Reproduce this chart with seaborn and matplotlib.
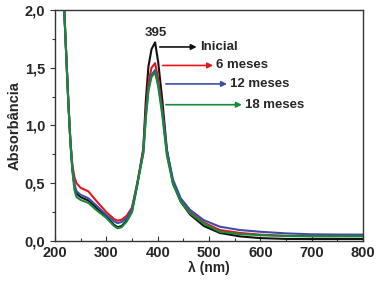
import numpy as np
import pandas as pd
import seaborn as sns
import matplotlib.pyplot as plt
from matplotlib.ticker import MultipleLocator, FuncFormatter

# comprimento de onda (nm) e absorbancia de cada amostra
wl = [214, 218, 222, 226, 230, 234, 238, 242, 250, 265, 280, 300, 315, 322, 330,
      340, 350, 360, 372, 377, 382, 388, 395, 401, 409, 418, 430, 445, 463, 490,
      521, 560, 600, 650, 700, 750, 800]
inicial = [2.38, 2.0, 1.6, 1.2, 0.86, 0.62, 0.47, 0.41, 0.38, 0.35, 0.29, 0.21, 0.14, 0.12, 0.13,
           0.18, 0.26, 0.48, 0.80, 1.22, 1.51, 1.66, 1.72, 1.55, 1.22, 0.79, 0.50, 0.34, 0.23, 0.13,
           0.07, 0.04, 0.025, 0.018, 0.017, 0.017, 0.017]
meses_6 = [2.38, 2.0, 1.6, 1.2, 0.87, 0.65, 0.55, 0.50, 0.46, 0.43, 0.35, 0.25, 0.19, 0.176, 0.185,
           0.22, 0.29, 0.50, 0.78, 1.12, 1.37, 1.50, 1.54, 1.40, 1.13, 0.76, 0.50, 0.35, 0.25, 0.16,
           0.095, 0.07, 0.055, 0.045, 0.043, 0.043, 0.045]
meses_12 = [2.38, 2.0, 1.6, 1.2, 0.86, 0.62, 0.49, 0.43, 0.40, 0.37, 0.31, 0.225, 0.17, 0.155, 0.165,
            0.20, 0.28, 0.49, 0.76, 1.08, 1.32, 1.44, 1.48, 1.36, 1.12, 0.78, 0.53, 0.37, 0.27, 0.18,
            0.124, 0.095, 0.08, 0.066, 0.058, 0.056, 0.055]
meses_18 = [2.38, 2.0, 1.6, 1.2, 0.85, 0.60, 0.44, 0.38, 0.355, 0.33, 0.27, 0.20, 0.13, 0.11, 0.12,
            0.17, 0.25, 0.48, 0.76, 1.07, 1.30, 1.42, 1.46, 1.34, 1.09, 0.74, 0.49, 0.34, 0.24, 0.15,
            0.08, 0.06, 0.05, 0.043, 0.04, 0.04, 0.04]

labels = ["Inicial", "6 meses", "12 meses", "18 meses"]
cores = ["#111111", "#e8141c", "#3f4ea5", "#168a3a"]

df = pd.concat([
    pd.DataFrame({"wl": wl, "abs": v, "amostra": lab})
    for lab, v in zip(labels, [inicial, meses_6, meses_12, meses_18])
])

sns.set_style("ticks")
plt.rcParams["font.family"] = ["Liberation Sans", "DejaVu Sans"]
plt.rcParams["font.weight"] = "bold"

fig = plt.figure(figsize=(3.78, 2.84), dpi=100)
ax = fig.add_axes([0.1455, 0.1514, 0.8148, 0.8134])

sns.lineplot(data=df, x="wl", y="abs", hue="amostra", palette=cores,
             hue_order=labels, linewidth=1.5, legend=False, ax=ax)

ax.set_xlim(200, 800)
ax.set_ylim(0, 2.0)
ax.xaxis.set_major_locator(MultipleLocator(100))
ax.xaxis.set_minor_locator(MultipleLocator(50))
ax.yaxis.set_major_locator(MultipleLocator(0.5))
ax.yaxis.set_minor_locator(MultipleLocator(0.25))
ax.yaxis.set_major_formatter(FuncFormatter(lambda v, p: f"{v:.1f}".replace(".", ",")))
ax.tick_params(axis="x", which="both", direction="in", labelsize=10.5)
ax.tick_params(axis="y", which="both", direction="out", labelsize=10.5)
ax.tick_params(which="major", length=3.5, width=0.8, color="#333333")
ax.tick_params(which="minor", length=2, width=0.8, color="#333333")
for s in ax.spines.values():
    s.set_color("#333333")
    s.set_linewidth(1.0)

ax.set_xlabel("λ (nm)", fontsize=10, fontweight="bold", labelpad=1)
ax.set_ylabel("Absorbância", fontsize=10.5, fontweight="bold", labelpad=2)

ax.text(397, 1.80, "395", fontsize=9.5, fontweight="bold", ha="center", va="center")

# setas com os rotulos de cada amostra
setas = [(404, 476, 1.68), (410, 508, 1.52), (416, 535, 1.36), (416, 564, 1.18)]
for (x0, x1, y), lab, c in zip(setas, labels, cores):
    ax.annotate("", xy=(x1, y), xytext=(x0, y),
                arrowprops=dict(arrowstyle="-|>", color=c, lw=1.2,
                                mutation_scale=8, shrinkA=0, shrinkB=0))
    ax.text(x1 + 6, y, lab, fontsize=9.5, fontweight="bold", ha="left", va="center")

plt.savefig("out.png", dpi=100)
plt.close()
